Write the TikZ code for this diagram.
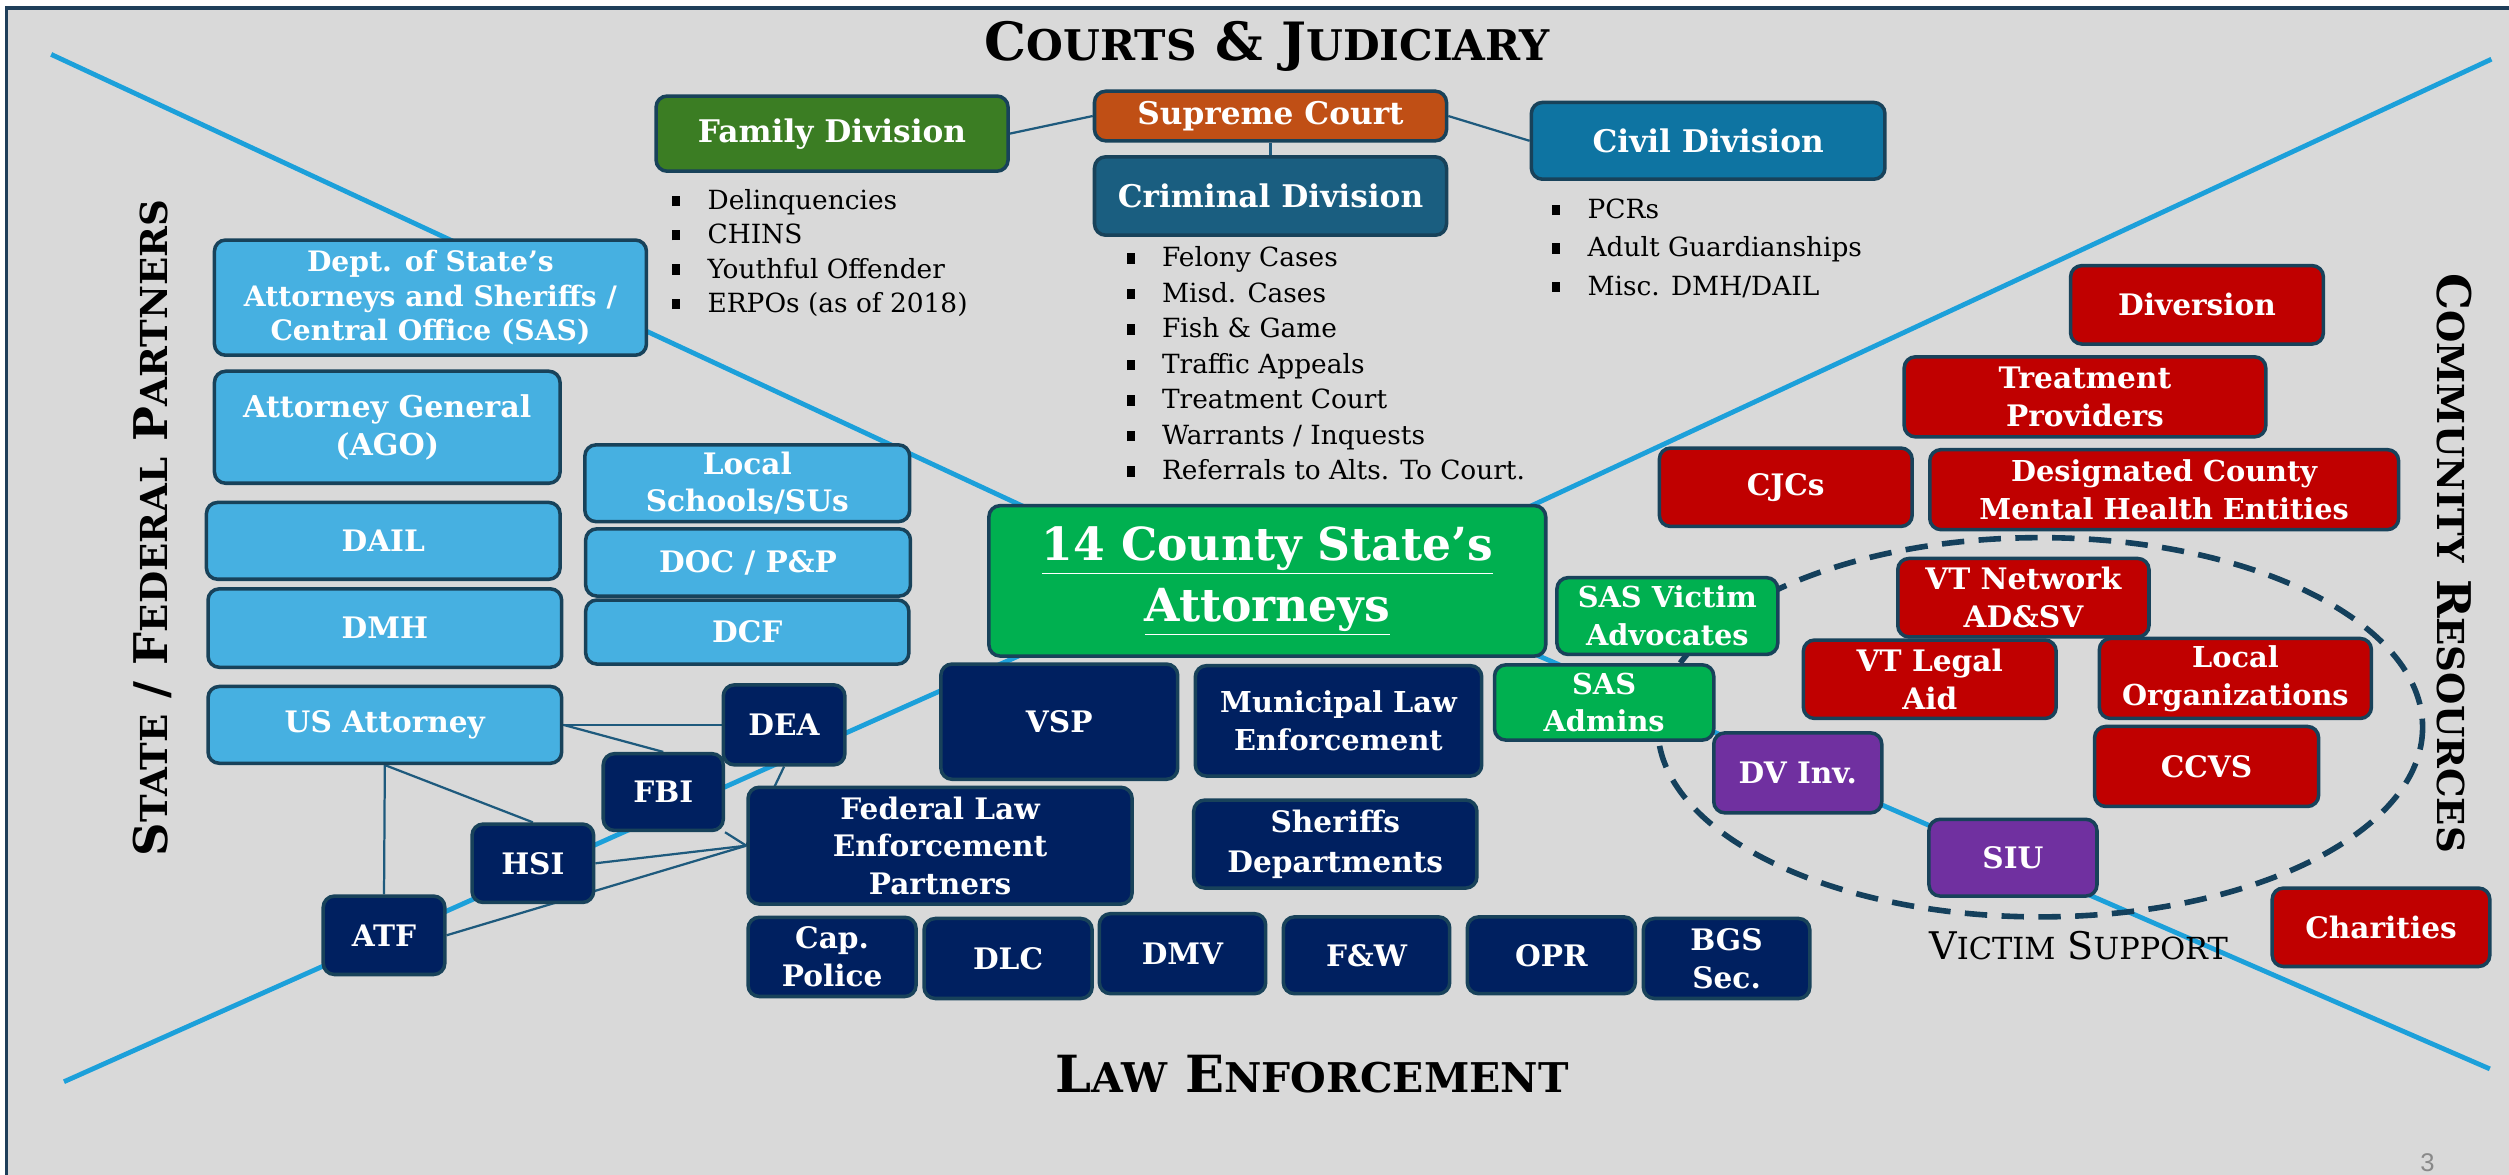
\documentclass[tikz,border=0pt]{standalone}
\usepackage{fontspec}
\setmainfont{DejaVu Serif}
\setsansfont{Liberation Sans}
\definecolor{bgc}{RGB}{217,217,217}
\definecolor{frm}{RGB}{31,63,90}
\definecolor{bord}{RGB}{24,66,90}
\definecolor{lblue}{RGB}{70,176,225}
\definecolor{navy}{RGB}{0,32,96}
\definecolor{sgreen}{RGB}{0,176,80}
\definecolor{dred}{RGB}{192,0,0}
\definecolor{purp}{RGB}{112,48,160}
\definecolor{famg}{RGB}{59,125,35}
\definecolor{supo}{RGB}{192,79,21}
\definecolor{crimb}{RGB}{26,94,128}
\definecolor{civb}{RGB}{14,116,162}
\definecolor{diag}{RGB}{28,160,218}
\definecolor{conn}{RGB}{30,90,125}
\definecolor{ellc}{RGB}{20,64,92}
\definecolor{pgnum}{RGB}{137,137,137}
\pgfdeclarelayer{back}
\pgfsetlayers{back,main}
\newcommand\sm[1]{{\fontsize{26.4}{30}\selectfont #1}}
\newcommand\smr[1]{{\fontsize{23.2}{27}\selectfont #1}}
\newcommand\sml[1]{{\fontsize{25.6}{29}\selectfont #1}}
\newcommand\smv[1]{{\fontsize{19}{22}\selectfont #1}}
\newcommand\bl{\rule[2pt]{5pt}{6.5pt}\hspace{17pt}}
\tikzset{
  bx/.style={draw=bord, line width=2.2pt, rounded corners=7pt, text=white,
    font=\bfseries\fontsize{18.5}{23.5}\selectfont, align=center, inner sep=0pt},
  court/.style={bx, font=\bfseries\fontsize{19.5}{23.5}\selectfont},
  lb/.style={fill=lblue}, nv/.style={fill=navy}, gr/.style={fill=sgreen},
  rd/.style={fill=dred}, pu/.style={fill=purp},
  ttl/.style={font=\bfseries\fontsize{33}{38}\selectfont, text=black, inner sep=0pt},
  blist/.style={font=\fontsize{16.5}{21.5}\selectfont, align=left, inner sep=0pt, anchor=north west},
  conn/.style={draw=conn, line width=1.4pt},
  diagl/.style={draw=diag, line width=3pt},
}
\begin{document}
\begin{tikzpicture}[x=1pt,y=-1pt]
\useasboundingbox (0,0) rectangle (1568,734);
% titles
\node[ttl] (tcourts) at (792,29) {C\sm{OURTS} \& J\sm{UDICIARY}};
\node[ttl, font=\bfseries\fontsize{32}{36}\selectfont] (tlaw) at (820,671) {L\sml{AW} E\sml{NFORCEMENT}};
\node[ttl, rotate=90, font=\bfseries\fontsize{29}{33}\selectfont] (tstate) at (95,330) {S\smr{TATE} / F\smr{EDERAL} P\smr{ARTNERS}};
\node[ttl, rotate=-90, font=\bfseries\fontsize{29}{33}\selectfont] (tcomm) at (1534,352) {C\smr{OMMUNITY} R\smr{ESOURCES}};
\node[font=\fontsize{23.8}{27}\selectfont, inner sep=0pt] (tvict) at (1299,591) {V\smv{ICTIM} S\smv{UPPORT}};
\node[font=\sffamily\fontsize{16}{19}\selectfont, text=pgnum, inner sep=0pt, anchor=north] (pnum) at (1517,721) {3};
% courts
\node[court, fill=famg, minimum width=220pt, minimum height=47pt] (fam) at (520,83.5) {Family Division};
\node[court, fill=supo, minimum width=220pt, minimum height=31pt] (sup) at (794,72.5) {Supreme Court};
\node[court, fill=crimb, minimum width=220pt, minimum height=49pt] (crim) at (794,122.5) {Criminal Division};
\node[court, fill=civb, minimum width=221pt, minimum height=48pt] (civ) at (1067.5,88) {Civil Division};
\node[blist] (famlist) at (420,118) {\bl Delinquencies\\\bl CHINS\\\bl Youthful Offender\\\bl ERPOs (as of 2018)};
\node[blist, font=\fontsize{16.5}{22.2}\selectfont] (crimlist) at (704,154) {\bl Felony Cases\\\bl Misd. Cases\\\bl Fish \& Game\\\bl Traffic Appeals\\\bl Treatment Court\\\bl Warrants / Inquests\\\bl Referrals to Alts. To Court.};
\node[blist, font=\fontsize{16.5}{24}\selectfont] (civlist) at (970,124) {\bl PCRs\\\bl Adult Guardianships\\\bl Misc. DMH/DAIL};
% state / federal
\node[bx, lb, minimum width=270pt, minimum height=72pt, font=\bfseries\fontsize{17.6}{21.5}\selectfont] (sas) at (269,186) {Dept. of State’s\\Attorneys and Sheriffs /\\Central Office (SAS)};
\node[bx, lb, minimum width=216pt, minimum height=70pt, font=\bfseries\fontsize{18.8}{24}\selectfont] (ago) at (242,267) {Attorney General\\(AGO)};
\node[bx, lb, minimum width=221pt, minimum height=48pt] (dail) at (239.5,338) {DAIL};
\node[bx, lb, minimum width=221pt, minimum height=49pt] (dmh) at (240.5,392.5) {DMH};
\node[bx, lb, minimum width=221pt, minimum height=48pt] (usa) at (240.5,453) {US Attorney};
\node[bx, lb, minimum width=203pt, minimum height=48pt] (sch) at (467,302) {Local\\Schools/SUs};
\node[bx, lb, minimum width=203pt, minimum height=42pt] (doc) at (467.5,351.5) {DOC / P\&P};
\node[bx, lb, minimum width=202pt, minimum height=40pt] (dcf) at (467,395) {DCF};
% law enforcement
\node[bx, nv, minimum width=76pt, minimum height=50pt] (dea) at (490,453) {DEA};
\node[bx, nv, minimum width=75pt, minimum height=48pt] (fbi) at (414.5,495) {FBI};
\node[bx, nv, minimum width=76pt, minimum height=49pt] (hsi) at (333,539.5) {HSI};
\node[bx, nv, minimum width=76pt, minimum height=49pt] (atf) at (240,584.5) {ATF};
\node[bx, nv, minimum width=240pt, minimum height=73pt] (fed) at (587.5,528.5) {Federal Law\\Enforcement\\Partners};
\node[bx, nv, minimum width=148pt, minimum height=72pt] (vsp) at (662,451) {VSP};
\node[bx, nv, minimum width=179pt, minimum height=69pt, font=\bfseries\fontsize{18}{23.5}\selectfont] (mun) at (836.5,450.5) {Municipal Law\\Enforcement};
\node[bx, nv, minimum width=177pt, minimum height=55pt, font=\bfseries\fontsize{18.5}{25}\selectfont] (she) at (834.5,527.5) {Sheriffs\\Departments};
\node[bx, nv, minimum width=105pt, minimum height=49.5pt] (cap) at (520,598) {Cap.\\Police};
\node[bx, nv, minimum width=105pt, minimum height=50pt] (dlc) at (630,599) {DLC};
\node[bx, nv, minimum width=104pt, minimum height=50pt] (dmv) at (739,596) {DMV};
\node[bx, nv, minimum width=104pt, minimum height=48pt] (fw) at (854,597) {F\&W};
\node[bx, nv, minimum width=105pt, minimum height=48pt] (opr) at (969.5,597) {OPR};
\node[bx, nv, minimum width=104pt, minimum height=50pt] (bgs) at (1079,599) {BGS\\Sec.};
% center
\node[bx, gr, minimum width=348pt, minimum height=94pt, font=\bfseries\fontsize{28.5}{38}\selectfont] (ctr) at (792,363) {\underline{14 County State’s}\\\underline{Attorneys}};
\node[bx, gr, minimum width=138pt, minimum height=48pt, font=\bfseries\fontsize{18}{23.5}\selectfont] (sasv) at (1042,385) {SAS Victim\\Advocates};
\node[bx, gr, minimum width=137pt, minimum height=47pt, font=\bfseries\fontsize{18}{23.5}\selectfont] (sasa) at (1002.5,439) {SAS\\Admins};
\node[bx, pu, minimum width=105pt, minimum height=50pt] (dv) at (1123.5,483) {DV Inv.};
\node[bx, pu, minimum width=105pt, minimum height=48pt] (siu) at (1258,536) {SIU};
% community
\node[bx, rd, minimum width=158pt, minimum height=49pt] (div) at (1373,190.5) {Diversion};
\node[bx, rd, minimum width=226pt, minimum height=50pt] (trt) at (1303,248) {Treatment\\Providers};
\node[bx, rd, minimum width=158pt, minimum height=49pt] (cjc) at (1116,304.5) {CJCs};
\node[bx, rd, minimum width=293pt, minimum height=50pt, font=\bfseries\fontsize{18}{23.5}\selectfont] (dcm) at (1352.5,306) {Designated County\\Mental Health Entities};
\node[bx, rd, minimum width=157pt, minimum height=49pt] (vtn) at (1264.5,373.5) {VT Network\\AD\&SV};
\node[bx, rd, minimum width=158pt, minimum height=49pt] (vtl) at (1206,424.5) {VT Legal\\Aid};
\node[bx, rd, minimum width=170pt, minimum height=50pt, font=\bfseries\fontsize{18}{23.5}\selectfont] (loc) at (1397,424) {Local\\Organizations};
\node[bx, rd, minimum width=140pt, minimum height=50pt] (ccvs) at (1379,479) {CCVS};
\node[bx, rd, minimum width=136pt, minimum height=49pt] (chr) at (1488,579.5) {Charities};
% free ends of the diagonals
\coordinate (ptl) at (32,34);
\coordinate (ptr) at (1557,37);
\coordinate (pbl) at (40,676);
\coordinate (pbr) at (1556,668);
\coordinate (itl) at (660,326);
\coordinate (itr) at (940,324);
\coordinate (ibl) at (660,399.5);
\coordinate (ibr) at (940,400.5);
\begin{pgfonlayer}{back}
  \fill[white] (0,0) rectangle (1568,734);
  \draw[draw=frm, line width=2pt, fill=bgc] (4,5) rectangle (1600,760);
  \draw[diagl] (ptl) -- (itl);
  \draw[diagl] (ptr) -- (itr);
  \draw[diagl] (pbl) -- (ibl);
  \draw[diagl] (pbr) -- (ibr);
  \draw[draw=ellc, line width=3.5pt, dash pattern=on 14pt off 9pt] (1275,454.5) ellipse [x radius=239, y radius=118.5];
  \draw[conn] (fam.east) -- (sup.west);
  \draw[conn] (sup.east) -- (civ.west);
  \draw[conn] (sup.south) -- (crim.north);
  \draw[conn] (usa.east) -- (dea.west);
  \draw[conn] (usa.east) -- (fbi.north);
  \draw[conn] (usa.south) -- (hsi.north);
  \draw[conn] (usa.south) -- (atf.north);
  \draw[conn] (dea.south) -- (fed.west);
  \draw[conn] (fbi.south east) -- (fed.west);
  \draw[conn] (hsi.east) -- (fed.west);
  \draw[conn] (atf.east) -- (fed.west);
\end{pgfonlayer}
\end{tikzpicture}
\end{document}
